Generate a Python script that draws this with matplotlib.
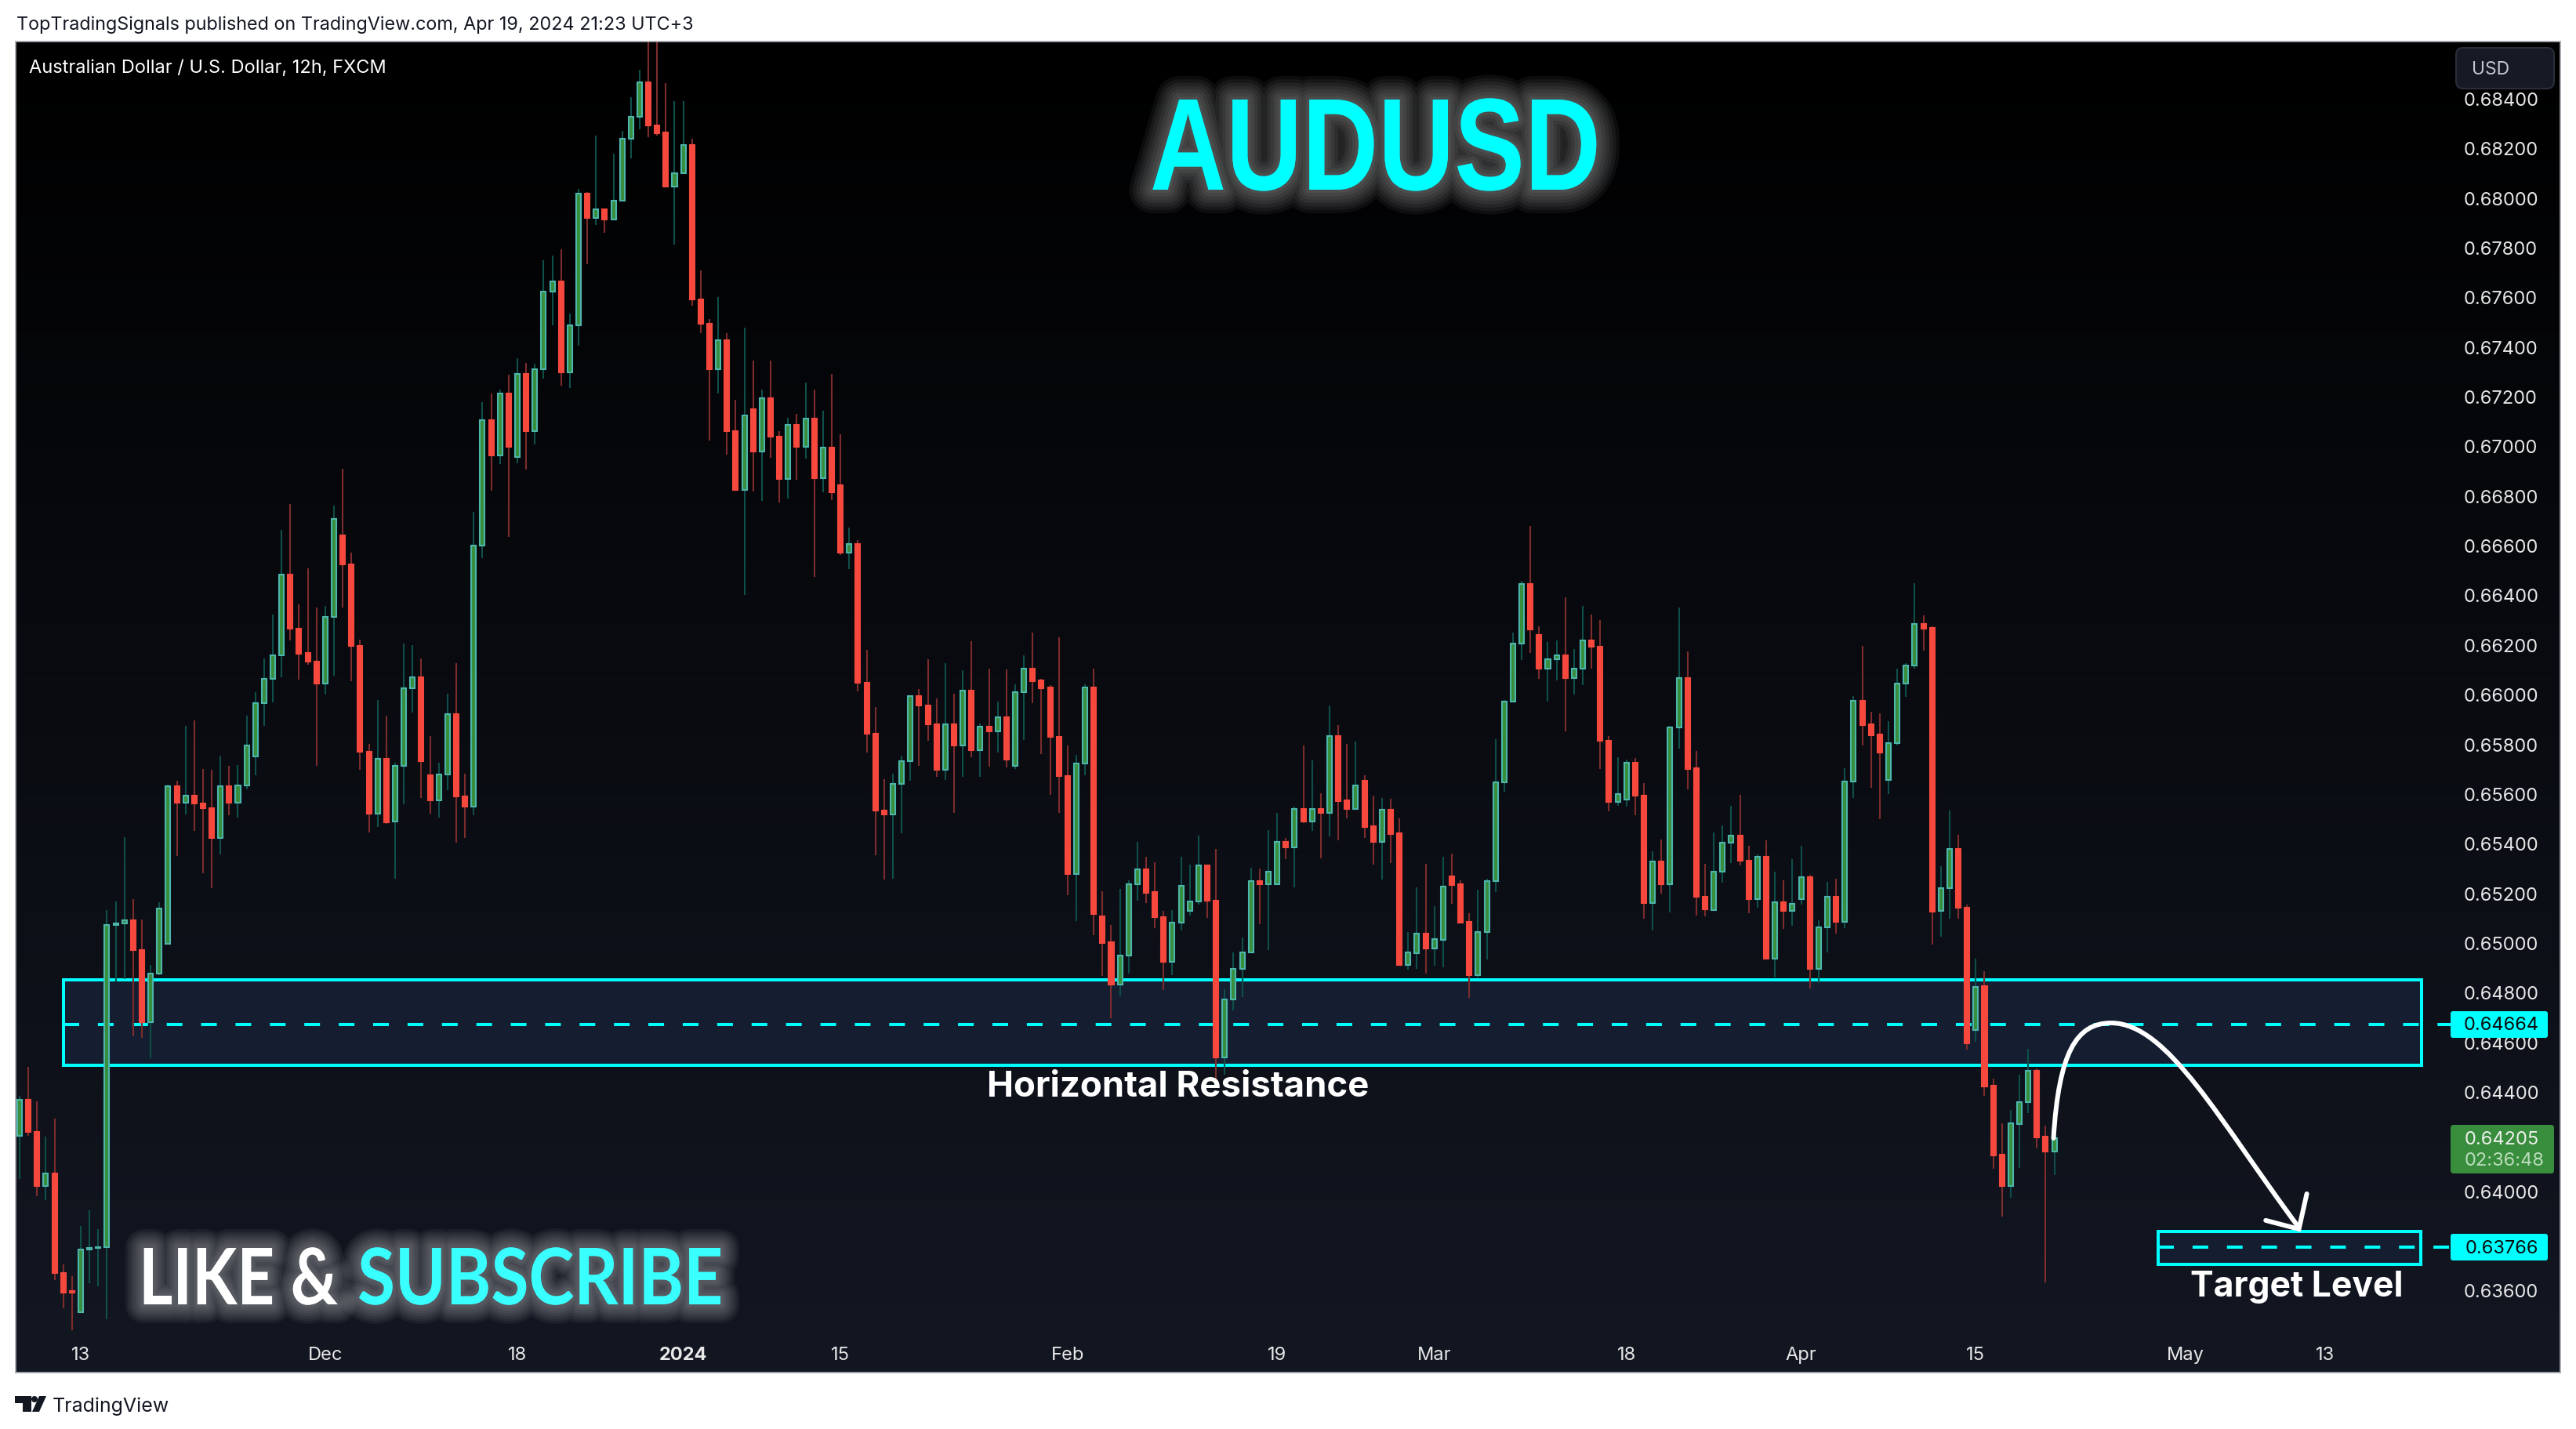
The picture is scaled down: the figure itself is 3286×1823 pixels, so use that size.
import numpy as np
import matplotlib
matplotlib.use('Agg')
import matplotlib.pyplot as plt
import matplotlib.patheffects as pe
from matplotlib.patches import Rectangle, FancyBboxPatch, Polygon, Circle, PathPatch
from matplotlib.path import Path
from matplotlib.transforms import IdentityTransform, Affine2D, ScaledTranslation
from matplotlib.textpath import TextPath
from matplotlib.font_manager import FontProperties

W, H = 3286, 1824
plt.rcParams['font.family'] = ['Inter', 'DejaVu Sans']
plt.rcParams['lines.scale_dashes'] = False

# 12h candles
opens = [
    .64215, .64362, .64232, .64015, .64063, .63662, .63589, .63505, .63757, .63763,
    .63767, .65064, .6507, .65083, .64963, .64674, .6487, .6499, .65622, .65558,
    .65584, .65553, .65536, .65416, .65622, .65557, .65625, .65744, .65959, .66057,
    .66149, .66475, .66259, .66159, .66126, .66038, .66304, .66632, .66517, .66189,
    .65763, .65514, .65733, .6548, .65707, .66017, .66061, .65667, .65567, .6567,
    .65915, .65581, .65542, .66591, .67096, .66954, .67206, .6695, .67285, .67053,
    .67303, .67616, .67657, .67291, .6748, .68009, .67913, .67948, .67907, .6798,
    .68231, .6832, .68457, .68285, .68255, .68039, .68093, .68206, .67584, .67486,
    .67303, .67421, .67054, .66817, .67143, .6697, .67187, .67031, .66862, .6708,
    .66991, .67105, .66865, .66988, .66837, .66565, .666, .66041, .65834, .65525,
    .65511, .65632, .65724, .65986, .65948, .65872, .65691, .65874, .65786, .66007,
    .65767, .65862, .65843, .659, .65707, .66001, .66098, .66048, .6602, .65822,
    .65664, .65271, .65714, .6602, .65098, .64994, .64826, .64943, .65228, .65288,
    .65197, .65095, .64915, .65073, .65123, .65159, .65304, .65164, .6453, .64764,
    .64887, .64953, .65242, .6523, .6523, .65398, .65378, .65533, .65481, .65533,
    .65515, .65824, .65566, .65531, .65645, .65463, .65398, .65528, .65435, .64904,
    .64951, .6503, .6497, .65006, .6526, .65229, .65078, .64863, .65035, .6524,
    .65639, .65965, .66197, .66437, .66231, .66097, .66134, .66149, .66058, .66098,
    .66212, .66186, .65805, .65559, .65571, .65717, .65587, .65154, .65321, .65228,
    .65859, .66058, .65695, .65178, .65126, .65278, .65395, .65424, .65325, .6517,
    .65338, .6493, .65156, .65121, .6517, .65256, .64889, .65054, .65177, .65078,
    .65641, .65966, .65872, .65832, .6565, .65797, .66037, .66109, .66277, .66261,
    .65123, .65213, .65372, .65134, .64641, .64817, .64417, .64139, .64015, .64264,
    .6435, .64477, .64211, .64153,
]
closes = [
    .64362, .64232, .64015, .64063, .63662, .63585, .63585, .63757, .63763, .63768,
    .65064, .6507, .65083, .64963, .64674, .6487, .65132, .65622, .65558, .65584,
    .65553, .65536, .65416, .65622, .65557, .65625, .65789, .65959, .66057, .66149,
    .66475, .66259, .66158, .66126, .66038, .66304, .66701, .66517, .66189, .65763,
    .65514, .65733, .65478, .65707, .66017, .66061, .65723, .65567, .6567, .65915,
    .65581, .65542, .66591, .67096, .66954, .67206, .66991, .67285, .67053, .67303,
    .67616, .67657, .67291, .6748, .68009, .67913, .67948, .67907, .6798, .68231,
    .6832, .68457, .68285, .68252, .68039, .68093, .68206, .67584, .67486, .67303,
    .67421, .67054, .66817, .67117, .6697, .67187, .67031, .66862, .6708, .66991,
    .67105, .66865, .66988, .66808, .66565, .666, .66041, .65834, .65524, .65511,
    .65632, .65724, .65986, .65948, .65872, .65691, .65874, .65786, .66007, .65767,
    .65862, .65843, .659, .65732, .66001, .66098, .66046, .66018, .65822, .65664,
    .6527, .65714, .6602, .65109, .64992, .64826, .64943, .65228, .65288, .65195,
    .65095, .64915, .65073, .65222, .65159, .65304, .65164, .6453, .64764, .64887,
    .64953, .6524, .65229, .65278, .65398, .65378, .65533, .65481, .65533, .65515,
    .65824, .65564, .65531, .65625, .6546, .65398, .65528, .65431, .64904, .64954,
    .6503, .6497, .65008, .65219, .65226, .65074, .64863, .65036, .6524, .65639,
    .65965, .66197, .66437, .66255, .66097, .66134, .66149, .66058, .66098, .6621,
    .66184, .65805, .65559, .65591, .65717, .65587, .65154, .65319, .65228, .65859,
    .66058, .65694, .65177, .65128, .65278, .65395, .65424, .65325, .6517, .65338,
    .6493, .65156, .65121, .65149, .65256, .64889, .65054, .65177, .65078, .65641,
    .65966, .6587, .65829, .65759, .65797, .66037, .66109, .66277, .66259, .65118,
    .65213, .65372, .65134, .64589, .64815, .64415, .64137, .64015, .64265, .6435,
    .64476, .6421, .64153, .64205,
]
highs = [
    .64378, .64492, .64354, .64212, .64284, .63697, .63652, .63851, .63916, .6384,
    .65124, .6516, .65418, .65168, .65086, .64905, .65156, .6563, .65647, .65866,
    .6589, .65692, .6569, .65746, .65704, .65709, .65906, .66001, .66138, .66315,
    .66655, .6676, .66355, .66501, .66343, .6635, .66753, .66902, .66564, .66213,
    .65794, .65971, .65908, .65718, .66197, .66192, .66138, .65825, .65718, .65996,
    .66118, .65674, .66728, .6717, .67206, .6722, .6728, .67346, .67327, .67324,
    .6774, .67761, .67785, .67528, .6803, .68016, .68243, .67948, .6817, .68262,
    .68397, .68508, .6875, .6875, .68454, .68382, .68382, .68232, .67699, .67506,
    .67592, .67447, .67178, .67471, .67338, .67222, .67338, .67053, .67108, .67124,
    .67249, .6722, .67134, .67284, .6704, .66664, .66613, .66172, .65941, .65652,
    .65674, .65745, .65986, .66014, .66134, .65977, .66118, .65996, .6609, .66207,
    .65876, .66096, .65963, .66093, .66035, .66152, .66242, .66055, .66032, .66224,
    .65787, .6575, .66035, .66098, .652, .65064, .65209, .65245, .65398, .65338,
    .65318, .65122, .65126, .65339, .65309, .65426, .65309, .65371, .64805, .64953,
    .65015, .65294, .65291, .65446, .65515, .65414, .6554, .65787, .65729, .65594,
    .65949, .65869, .65793, .65803, .65666, .65584, .65576, .65573, .65494, .65036,
    .65216, .65311, .6514, .65339, .65352, .65245, .65111, .65206, .65252, .65812,
    .6597, .66242, .66449, .66672, .66268, .66204, .66211, .66385, .66177, .66349,
    .66314, .66293, .65825, .65739, .65731, .65738, .65635, .65362, .65408, .65867,
    .66344, .66166, .65766, .65311, .65438, .65464, .65545, .65588, .65385, .65348,
    .65404, .6528, .65245, .65329, .65385, .65267, .65085, .65239, .6525, .65697,
    .65987, .66189, .65924, .65917, .65885, .66096, .66119, .6644, .66311, .66268,
    .65302, .65526, .65428, .65148, .64929, .64878, .64446, .64265, .6432, .64462,
    .64566, .64487, .64257, .64328,
]
lows = [
    .64041, .64215, .63972, .63958, .63635, .63522, .63433, .63505, .63623, .63608,
    .63476, .64836, .64848, .64615, .64609, .64527, .64864, .6499, .65344, .6551,
    .65444, .65273, .65214, .65348, .65507, .65498, .6561, .65669, .65867, .65962,
    .66063, .66209, .66054, .66114, .65707, .65993, .6607, .66344, .66047, .65691,
    .65438, .6546, .65471, .65252, .6555, .65921, .65577, .65514, .65498, .65609,
    .65397, .65415, .65507, .66542, .66814, .66921, .66628, .66923, .669, .67,
    .67264, .6748, .67235, .67226, .67398, .67725, .67883, .67853, .67907, .6798,
    .68152, .68268, .68237, .68242, .68039, .67805, .68093, .67558, .67448, .67016,
    .67205, .6696, .66817, .66394, .66811, .66773, .66947, .66767, .66782, .66858,
    .66942, .66467, .66806, .66775, .66556, .66497, .66006, .6576, .65346, .65247,
    .65252, .65435, .65646, .65707, .65808, .65662, .6565, .65515, .6566, .65741,
    .6566, .65703, .65759, .65698, .65693, .65811, .65958, .65752, .65588, .65515,
    .65185, .65082, .65667, .65023, .64861, .64688, .64782, .6487, .65164, .65153,
    .65053, .64803, .64864, .65044, .65104, .65146, .65094, .64427, .64462, .6472,
    .64774, .64953, .65068, .64964, .6523, .6533, .65215, .65476, .65445, .65332,
    .65422, .65404, .65494, .65531, .65416, .65308, .65247, .65315, .64904, .64885,
    .64888, .6487, .64901, .64895, .6515, .65074, .64771, .64853, .64926, .65198,
    .656, .65965, .6613, .66159, .66056, .65965, .66048, .65843, .65994, .66032,
    .66096, .65693, .65521, .65545, .6554, .65507, .6509, .65042, .65191, .65115,
    .65776, .6561, .65102, .65099, .65126, .65236, .65315, .65304, .65112, .65135,
    .6493, .64853, .6505, .6506, .65147, .64808, .6483, .64954, .6503, .65053,
    .65576, .65788, .65618, .65491, .65593, .65786, .65983, .66096, .6617, .64987,
    .65016, .65089, .65089, .64562, .64594, .64377, .64083, .63891, .63967, .64086,
    .64308, .64165, .63626, .64059,
]

# time axis
time_ticks = [7, 35, 57, 76, 94, 120, 144, 162, 184, 204, 224, 248, 264]
time_labels = ['13', 'Dec', '18', '2024', '15', 'Feb', '19', 'Mar', '18', 'Apr', '15', 'May', '13']

# price axis
price_ticks = [.636 + .002 * i for i in range(25)]

# drawn levels
zone_low, zone_mid, zone_high = .64500, .64664, .64843
target_low, target_mid, target_high = .63697, .63766, .63829
last_price = .64205

# pixel helpers for the chart chrome
def fx(x):
    return x / W

def fy(y):
    return 1 - y / H

def px_box(x0, y0, x1, y1, face, edge='none', r=4, lw=0, z=10):
    box = FancyBboxPatch((x0, H - y1), x1 - x0, y1 - y0, boxstyle='round,pad=0,rounding_size=%g' % r,
                         facecolor=face, edgecolor=edge, linewidth=lw, transform=IdentityTransform(), zorder=z)
    fig.add_artist(box)

class Tall(pe.AbstractPathEffect):
    # stretches a text upward from its baseline, then hands over to the other effects
    def __init__(self, k, effects):
        super().__init__()
        self.k = k
        self.effects = effects

    def draw_path(self, renderer, gc, tpath, affine, rgbFace=None):
        base = affine.get_matrix()[1, 2]
        tall = affine + Affine2D().translate(0, -base).scale(1, self.k).translate(0, base)
        for e in self.effects:
            e.draw_path(renderer, gc, tpath, tall, rgbFace)

def glow_text(x0, x1, baseline, cap_px, s, color, family, radius, alpha):
    # fontsize set from the wanted width, height made up by the stretch
    t = fig.text(fx(x0), fy(baseline), s, color=color, fontsize=50, fontweight='bold', family=family,
                 ha='left', va='baseline', zorder=12)
    prop = FontProperties(family=family, weight='bold')
    ext = TextPath((0, 0), s, size=50, prop=prop).get_extents()
    size = 50 * (x1 - x0) / (ext.width * 100 / 72)
    t.set_fontsize(size)
    cap = TextPath((0, 0), 'H', size=size, prop=prop).get_extents().height * 100 / 72
    halo = [pe.Stroke(linewidth=2 * r * .72, foreground='#ffffff', alpha=alpha) for r in np.linspace(radius, 4, 7)]
    t.set_path_effects([Tall(cap_px / cap, halo + [pe.Normal()])])
    return t

fig = plt.figure(figsize=(W / 100, H / 100), dpi=100, facecolor='white')
ax = fig.add_axes([fx(20), fy(1752), fx(3266 - 20), (1752 - 54) / H])

# background gradient, black at the top
top_col = np.array([0, 0, 0])
bot_col = np.array([19, 23, 34])
grad = np.linspace(0, 1, 256)[:, None, None] * (bot_col - top_col)[None, None, :] / 255
ax.imshow(grad, extent=(0, 1, 0, 1), transform=ax.transAxes, aspect='auto', origin='upper', zorder=0)

x = np.arange(len(opens))
o, h, l, c = map(np.array, (opens, highs, lows, closes))
up = c >= o

ax.add_patch(Rectangle((5.03, zone_low), 270, zone_high - zone_low, facecolor='#141e30', edgecolor='#00ffff', lw=2.9, zorder=1))
ax.add_patch(Rectangle((244.9, target_low), 30.1, target_high - target_low, facecolor='#141e30', edgecolor='#00ffff', lw=2.9, zorder=1))
ax.plot([5.03, 278.4], [zone_mid, zone_mid], color='#00ffff', lw=2.9, linestyle=(0, (14.4, 17.2)), zorder=1.5)
ax.plot([244.9, 278.4], [target_mid, target_mid], color='#00ffff', lw=2.9, linestyle=(0, (14.4, 17.2)), zorder=1.5)

ax.vlines(x[up], l[up], h[up], color='#0f4f4a', lw=1.5, zorder=2)
ax.vlines(x[~up], l[~up], h[~up], color='#7c2c2c', lw=1.5, zorder=2)
ax.bar(x[up], (c - o)[up], bottom=o[up], width=.54, color='#388e3c', edgecolor='#4db6ac', linewidth=1.5, zorder=3)
ax.bar(x[~up], (o - c)[~up], bottom=c[~up], width=.54, color='#f7483e', edgecolor='#f7483e', linewidth=1.5, zorder=3)

# the projected move
verts = [(232.9, .64206), (233.5, .6455), (235.5, .6467), (239.5, .6467),
         (246, .6467), (252, .6427), (261, .63846)]
codes = [Path.MOVETO] + [Path.CURVE4] * 6
ax.add_patch(PathPatch(Path(verts, codes), facecolor='none', edgecolor='white', lw=4.3, capstyle='round', zorder=6))
ax.plot([261.9, 261, 257.2], [.63982, .6384, .63875], color='white', lw=4.3, solid_capstyle='round', solid_joinstyle='miter', zorder=6)

ax.set_xlim((20 - 25) / 11.14, (3266 - 25) / 11.14)
ax.set_ylim(.636 - 107 / 31680, .636 + 1591 / 31680)

ax.yaxis.tick_right()
ax.set_yticks(price_ticks)
ax.set_yticklabels(['%.5f' % p for p in price_ticks])
ax.tick_params(axis='y', length=0, pad=-88.6, labelsize=17, labelcolor='#e8e8e8')
ax.set_xticks(time_ticks)
ax.set_xticklabels(time_labels)
ax.tick_params(axis='x', length=0, pad=-24.5, labelsize=17, labelcolor='#e8e8e8')
ax.get_xticklabels()[3].set_fontweight('bold')
nudge = ScaledTranslation(0, -2 / 100, fig.dpi_scale_trans)
for lab in ax.get_yticklabels():
    lab.set_transform(lab.get_transform() + nudge)
for sp in ax.spines.values():
    sp.set_color('#a6a9b2')
    sp.set_linewidth(1.2)

# price tags on the scale
px_box(3126, 1291, 3250, 1325, '#00ffff', r=3)
px_box(3126, 1575, 3250, 1609, '#00ffff', r=3)
px_box(3126, 1436, 3258, 1498, '#388e3c', r=4)
fig.text(fx(3191), fy(1308), '%.5f' % zone_mid, color='#0a0a0a', fontsize=17, ha='center', va='center', zorder=11)
fig.text(fx(3191), fy(1593), '%.5f' % target_mid, color='#0a0a0a', fontsize=17, ha='center', va='center', zorder=11)
fig.text(fx(3191), fy(1454), '%.5f' % last_price, color='#f0f0f0', fontsize=17, ha='center', va='center', zorder=11)
fig.text(fx(3195), fy(1481), '02:36:48', color='#bcdcbd', fontsize=17, ha='center', va='center', zorder=11)

px_box(3133, 62, 3258, 114, '#161a25', edge='#2a2e39', r=9, lw=1.5)
fig.text(fx(3153), fy(89), 'USD', color='#c5c8d2', fontsize=16.5, ha='left', va='center', zorder=11)

# header and footer
fig.text(fx(21), fy(32), 'TopTradingSignals published on TradingView.com, Apr 19, 2024 21:23 UTC+3',
         color='#131722', fontsize=16.85, ha='left', va='center')
fig.text(fx(37), fy(87), 'Australian Dollar / U.S. Dollar, 12h, FXCM', color='white', fontsize=17, ha='left', va='center', zorder=11)

glow_text(1467, 2033, 243, 115, 'AUDUSD', '#00ffff', ['Liberation Sans'], 30, .05)
glow_text(177, 424, 1665, 72, 'LIKE &', 'white', ['Lato'], 24, .05)
glow_text(456, 917, 1665, 72, 'SUBSCRIBE', '#3affff', ['Lato'], 24, .05)

fig.text(fx(1503), fy(1387), 'Horizontal Resistance', color='white', fontsize=32.8, fontweight='bold', ha='center', va='center', zorder=12)
fig.text(fx(2930), fy(1642), 'Target Level', color='white', fontsize=32, fontweight='bold', ha='center', va='center', zorder=12)

# logo
dark = '#131722'
fig.add_artist(Polygon([(19, H - 1782), (40, H - 1782), (40, H - 1802), (29, H - 1802), (29, H - 1791), (19, H - 1791)],
                       facecolor=dark, edgecolor='none', transform=IdentityTransform()))
fig.add_artist(Circle((44, H - 1786), 4, facecolor=dark, edgecolor='none', transform=IdentityTransform()))
fig.add_artist(Polygon([(59, H - 1782), (50, H - 1782), (41, H - 1802), (50, H - 1802)],
                       facecolor=dark, edgecolor='none', transform=IdentityTransform()))
fig.text(fx(67), fy(1794), 'TradingView', color=dark, fontsize=18, ha='left', va='center')

fig.savefig('out.png', dpi=100)
